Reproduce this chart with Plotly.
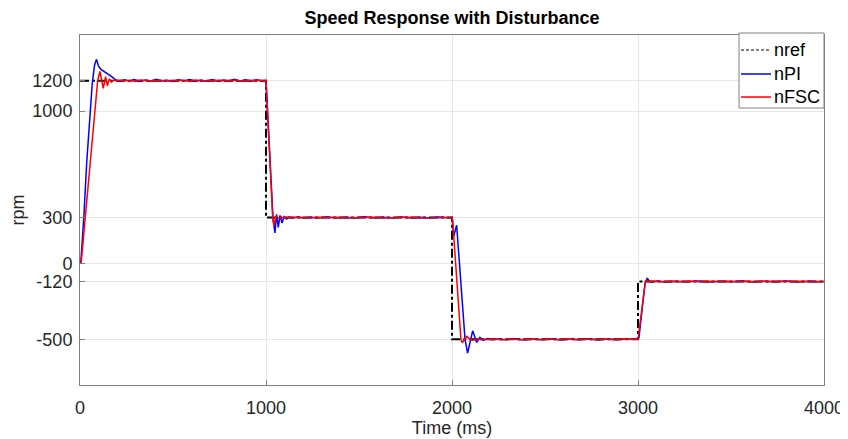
import plotly.graph_objects as go

# ---------------- data ----------------
t_ref = [0, 1000, 1000, 2000, 2000, 3000, 3000, 4000]
n_ref = [1200, 1200, 300, 300, -500, -500, -120, -120]

t_pi = [0, 4, 21, 36, 66, 78, 88, 100, 111, 130, 150, 170, 192, 215, 240, 265, 290, 320,
        350, 380, 410, 440, 470, 500, 530, 560, 590, 620, 650, 680, 710, 740, 770, 800,
        830, 860, 890, 920, 950, 980, 1000,
        1038, 1048, 1057, 1066, 1075, 1086, 1097, 1110, 1125, 1140, 1170, 1200, 1240,
        1280, 1330, 1380, 1430, 1480, 1530, 1580, 1630, 1680, 1730, 1780, 1830, 1880,
        1930, 1980, 2000,
        2010, 2025, 2070, 2084, 2111, 2133, 2150, 2168, 2190, 2215, 2250, 2290, 2340,
        2390, 2440, 2490, 2540, 2590, 2640, 2690, 2740, 2790, 2840, 2890, 2940, 2980, 3000,
        3005, 3038, 3050, 3060, 3075, 3100, 3150, 3200, 3260, 3320, 3380, 3440, 3500,
        3560, 3620, 3680, 3740, 3800, 3860, 3920, 3970, 4000]
n_pi = [0, 0, 310, 660, 1183, 1300, 1340, 1295, 1275, 1260, 1243, 1226, 1205, 1196, 1206,
        1198, 1207, 1195, 1204, 1197, 1209, 1198, 1203, 1195, 1206, 1199, 1208, 1196, 1203,
        1197, 1207, 1196, 1204, 1198, 1209, 1197, 1205, 1196, 1206, 1199, 1200,
        290, 200, 322, 235, 315, 265, 306, 290, 303, 298, 304, 297, 303,
        298, 304, 297, 302, 298, 305, 297, 303, 298, 304, 297, 302, 298,
        304, 299, 300,
        180, 250, -500, -590, -444, -520, -487, -506, -495, -503, -497, -503, -496,
        -504, -497, -503, -496, -504, -498, -503, -496, -504, -497, -503, -497, -502, -500,
        -490, -130, -97, -118, -124, -117, -123, -118, -122, -117, -123, -118, -121,
        -117, -123, -118, -122, -117, -123, -118, -121, -120]

t_fsc = [0, 6, 95, 107, 125, 138, 147, 158, 170, 182, 195, 230, 280, 330, 380, 430, 480,
         530, 580, 630, 680, 730, 780, 830, 880, 930, 980, 1000,
         1036, 1043, 1050, 1056, 1065, 1080, 1130, 1180, 1230, 1280, 1330, 1380, 1430,
         1480, 1530, 1580, 1630, 1680, 1730, 1780, 1830, 1880, 1930, 1980, 2000,
         2003, 2048, 2055, 2065, 2080, 2095, 2110, 2130, 2170, 2220, 2270, 2320, 2370,
         2420, 2470, 2520, 2570, 2620, 2670, 2720, 2770, 2820, 2870, 2920, 2970, 3000,
         3040, 3048, 3058, 3080, 3130, 3180, 3230, 3280, 3330, 3380, 3430, 3480, 3530,
         3580, 3630, 3680, 3730, 3780, 3830, 3880, 3930, 3980, 4000]
n_fsc = [0, 0, 1200, 1260, 1150, 1226, 1166, 1212, 1190, 1204, 1199, 1203, 1198, 1202,
         1197, 1203, 1198, 1202, 1197, 1203, 1198, 1202, 1197, 1203, 1198, 1202, 1199, 1200,
         300, 245, 300, 310, 298, 301, 299, 302, 298, 302, 299, 302, 298,
         301, 299, 302, 298, 301, 299, 302, 298, 301, 299, 301, 300,
         290, -500, -522, -505, -480, -498, -505, -499, -502, -498, -502, -498, -502,
         -497, -502, -498, -502, -498, -502, -498, -502, -498, -502, -498, -501, -500,
         -118, -112, -121, -119, -122, -118, -121, -118, -122, -118, -121, -119, -122,
         -118, -121, -118, -122, -119, -121, -118, -121, -119, -120]

x_ticks = [0, 1000, 2000, 3000, 4000]
y_ticks = [-500, -120, 0, 300, 1000, 1200]

series_names = ["nref", "nPI", "nFSC"]
series_colors = ["black", "#0000ff", "#ff0000"]
series_dash = ["dashdot", "solid", "solid"]
series_width = [2, 1.5, 1.5]

FONT = "Liberation Sans, Arial, Helvetica, sans-serif"

# the page body has an 8px margin, so the figure is 8px smaller and shifted
W, H = 840, 431
ML, MR, MT, MB = 72, 24, 27, 54
PW, PH = W - ML - MR, H - MT - MB


def px_to_paper_x(px):
    return (px - 8 - ML) / PW


def px_to_paper_y(py):
    return (H - MB - (py - 8)) / PH


fig = go.Figure()
for t, n, name, col, dsh, wd in zip([t_ref, t_pi, t_fsc], [n_ref, n_pi, n_fsc],
                                    series_names, series_colors, series_dash, series_width):
    fig.add_trace(go.Scatter(x=t, y=n, mode="lines", name=name, showlegend=False,
                             line=dict(color=col, width=wd, dash=dsh)))

axis_common = dict(showline=True, linecolor="#808080", linewidth=1, mirror=True,
                   ticks="inside", ticklen=5, tickcolor="#808080",
                   showgrid=True, gridcolor="#e6e6e6", gridwidth=1,
                   zeroline=False, tickfont=dict(size=18, color="#262626", family=FONT))

fig.update_xaxes(range=[0, 4000], tickvals=x_ticks,
                 ticktext=[str(v) for v in x_ticks], ticklabelstandoff=6,
                 title=dict(text="Time (ms)", font=dict(size=18, color="#262626", family=FONT),
                            standoff=2),
                 **axis_common)
fig.update_yaxes(range=[-800, 1500], tickvals=y_ticks,
                 ticktext=[str(v) for v in y_ticks], ticklabelstandoff=3,
                 title=dict(text="rpm", font=dict(size=18, color="#262626", family=FONT),
                            standoff=3),
                 **axis_common)

# ---- legend drawn as a box with sample lines and labels ----
shapes = [dict(type="rect", xref="paper", yref="paper",
               x0=px_to_paper_x(739), x1=px_to_paper_x(824),
               y0=px_to_paper_y(108), y1=px_to_paper_y(33),
               line=dict(color="#808080", width=1), fillcolor="white", layer="above")]
annotations = []
row_py = [50, 74, 97]
for name, col, dsh, wd, py in zip(series_names, series_colors, series_dash, series_width, row_py):
    shapes.append(dict(type="line", xref="paper", yref="paper",
                       x0=px_to_paper_x(741), x1=px_to_paper_x(771),
                       y0=px_to_paper_y(py), y1=px_to_paper_y(py),
                       line=dict(color=col, width=1.2 if dsh != "solid" else wd,
                                 dash="3px,2px" if dsh != "solid" else "solid"),
                       layer="above"))
    annotations.append(dict(text=name, xref="paper", yref="paper",
                            x=px_to_paper_x(772), y=px_to_paper_y(py),
                            xanchor="left", yanchor="middle", showarrow=False,
                            font=dict(size=18, color="black", family=FONT)))

fig.update_layout(
    width=W, height=H,
    margin=dict(l=ML, r=MR, t=MT, b=MB, autoexpand=False),
    paper_bgcolor="white", plot_bgcolor="white",
    font=dict(family=FONT, color="#262626"),
    title=dict(text="<b>Speed Response with Disturbance</b>", x=444 / W, xanchor="center",
               y=1 - 10 / H, yanchor="middle", font=dict(size=18, color="black", family=FONT)),
    shapes=shapes, annotations=annotations,
    showlegend=False,
)

fig.write_html("out.html")
